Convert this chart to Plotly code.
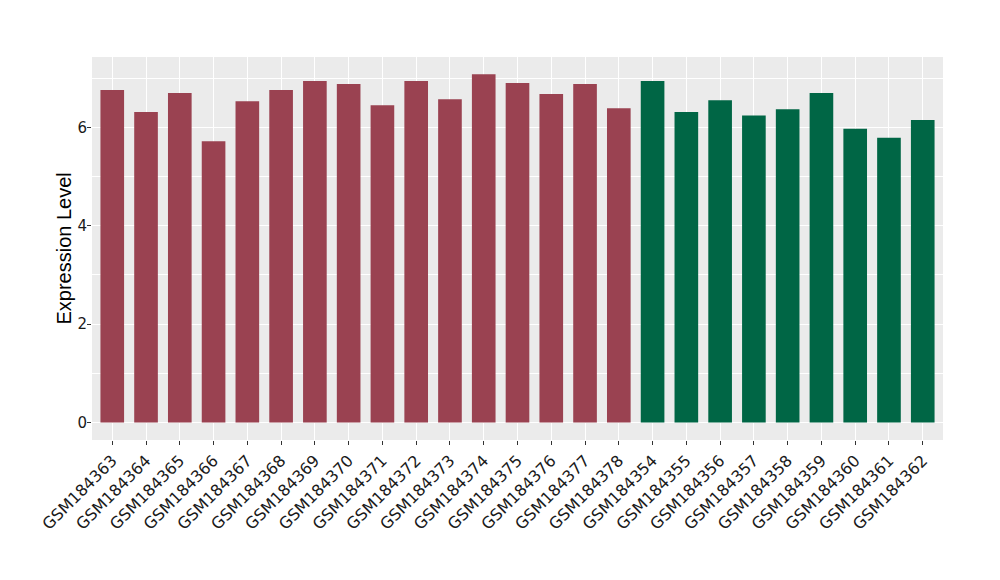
import plotly.graph_objects as go

samples = ["GSM184363", "GSM184364", "GSM184365", "GSM184366", "GSM184367",
           "GSM184368", "GSM184369", "GSM184370", "GSM184371", "GSM184372",
           "GSM184373", "GSM184374", "GSM184375", "GSM184376", "GSM184377",
           "GSM184378", "GSM184354", "GSM184355", "GSM184356", "GSM184357",
           "GSM184358", "GSM184359", "GSM184360", "GSM184361", "GSM184362"]
values = [6.76, 6.31, 6.70, 5.72, 6.53, 6.76, 6.94, 6.88, 6.45, 6.94,
          6.57, 7.08, 6.90, 6.68, 6.88, 6.39, 6.94, 6.31, 6.55, 6.24,
          6.37, 6.70, 5.97, 5.79, 6.15]
groups = ["A"] * 16 + ["B"] * 9
group_colors = {"A": "#9A4251", "B": "#006645"}

colors = [group_colors[g] for g in groups]

fig = go.Figure(go.Bar(x=samples, y=values, marker=dict(color=colors, line=dict(width=0)),
                       width=0.7, showlegend=False))

fig.update_layout(
    width=1000, height=580,
    margin=dict(l=84, r=65, t=49, b=148),
    paper_bgcolor="white",
    plot_bgcolor="#EBEBEB",
    font=dict(family="DejaVu Sans", color="#1a1a1a"),
    bargap=0.3,
    annotations=[dict(text="Expression Level", xref="paper", yref="paper",
                      x=0, y=0.5, xshift=-29, xanchor="center", yanchor="middle",
                      textangle=-90, showarrow=False,
                      font=dict(size=20, family="Liberation Sans", color="black"))],
)
fig.update_xaxes(
    type="category",
    range=[-0.6, len(samples) - 0.4],
    showgrid=True, gridcolor="white", gridwidth=1.1,
    tickangle=-45,
    tickfont=dict(size=16, color="#1a1a1a", family="DejaVu Sans"),
    ticks="outside", ticklen=4, tickcolor="#333333", tickwidth=1,
    zeroline=False, showline=False, automargin=False,
)
fig.update_yaxes(
    range=[-0.354, 7.43],
    dtick=2, tick0=0,
    showgrid=True, gridcolor="white", gridwidth=1.1,
    minor=dict(dtick=1, tick0=0, showgrid=True, gridcolor="white", gridwidth=0.5),
    tickfont=dict(size=15, color="#1a1a1a", family="DejaVu Sans"),
    ticks="outside", ticklen=4, tickcolor="#333333", tickwidth=1,
    ticklabelstandoff=-3,
    zeroline=False, showline=False, automargin=False,
)

fig.write_html("out.html")
